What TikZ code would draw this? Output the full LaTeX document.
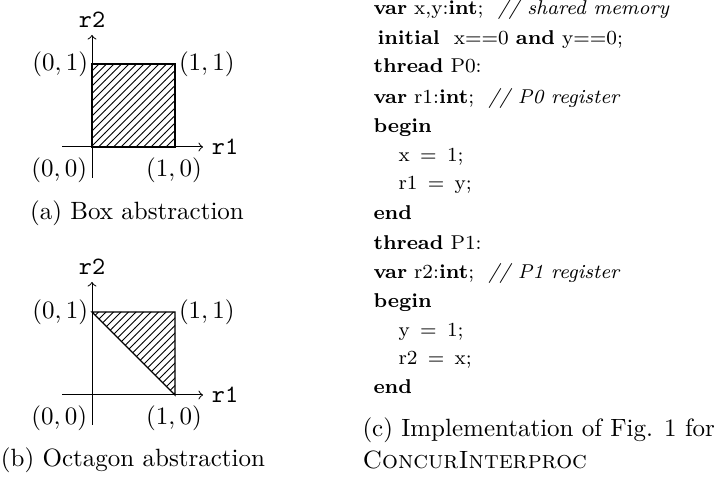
\documentclass[tikz,border=0pt]{standalone}
\usetikzlibrary{patterns}
\begin{document}
\begin{tikzpicture}[x=0.4pt,y=-0.4pt,
  lbl/.style={inner sep=1pt},
  axis/.style={->,line width=0.4pt},
  region/.style={draw,line width=0.5pt,pattern=north east lines},
  code/.style={anchor=west,inner sep=0pt,font=\footnotesize,text height=1.5ex,text depth=.3ex},
  captext/.style={inner sep=0pt}]
\useasboundingbox (0,0) rectangle (714,478);
% (a) Box
\coordinate (ab) at (92,178);
\coordinate (at) at (92,35);
\coordinate (al) at (62,147);
\coordinate (ar) at (203,147);
\draw[region] (92,64) rectangle (175,147);
\draw[axis] (ab) -- (at);
\draw[axis] (al) -- (ar);
\node[lbl] (ar2) at (92,20) {\texttt{r2}};
\node[lbl] (ar1) at (225,147) {\texttt{r1}};
\node[lbl,anchor=east] (a01) at (91,64) {$(0,1)$};
\node[lbl,anchor=west] (a11) at (176,64) {$(1,1)$};
\node[lbl,anchor=east] (a00) at (90,170) {$(0,0)$};
\node[lbl] (a10) at (174,170) {$(1,0)$};
\node[captext] (capa) at (137,213) {(a) Box abstraction};
% (b) Octagon
\coordinate (bb) at (92,425);
\coordinate (bt) at (92,282);
\coordinate (bl) at (62,395);
\coordinate (br) at (203,395);
\draw[region] (92,312) -- (175,312) -- (175,395) -- cycle;
\draw[axis] (bb) -- (bt);
\draw[axis] (bl) -- (br);
\node[lbl] (br2) at (92,267) {\texttt{r2}};
\node[lbl] (br1) at (225,395) {\texttt{r1}};
\node[lbl,anchor=east] (b01) at (91,312) {$(0,1)$};
\node[lbl,anchor=west] (b11) at (176,312) {$(1,1)$};
\node[lbl,anchor=east] (b00) at (90,418) {$(0,0)$};
\node[lbl] (b10) at (174,418) {$(1,0)$};
\node[captext] (capb) at (133,460) {(b) Octagon abstraction};
% (c) code
\node[code] (l1) at (373,8) {\textbf{var} x,y:\textbf{int}; \ \textit{// shared memory}};
\node[code] (l2) at (377,38) {\textbf{initial} \ x==0 \textbf{and} y==0;};
\node[code] (l3) at (373,66) {\textbf{thread} P0:};
\node[code] (l4) at (373,97) {\textbf{var} r1:\textbf{int}; \ \textit{// P0 register}};
\node[code] (l5) at (373,126) {\textbf{begin}};
\node[code] (l6) at (398,155) {x \,=\, 1;};
\node[code] (l7) at (398,183) {r1 \,=\, y;};
\node[code] (l8) at (373,213) {\textbf{end}};
\node[code] (l9) at (373,243) {\textbf{thread} P1:};
\node[code] (l10) at (373,272) {\textbf{var} r2:\textbf{int}; \ \textit{// P1 register}};
\node[code] (l11) at (373,301) {\textbf{begin}};
\node[code] (l12) at (398,330) {y \,=\, 1;};
\node[code] (l13) at (398,358) {r2 \,=\, x;};
\node[code] (l14) at (373,387) {\textbf{end}};
\node[captext,anchor=west] (capc1) at (362,430) {(c) Implementation of Fig. 1 for};
\node[captext,anchor=west] (capc2) at (362,460) {\textsc{ConcurInterproc}};
\end{tikzpicture}
\end{document}
